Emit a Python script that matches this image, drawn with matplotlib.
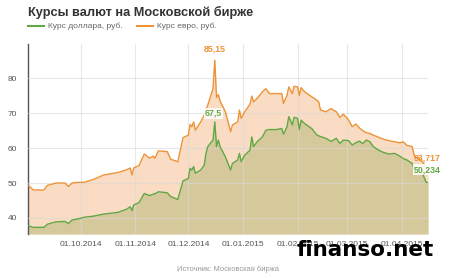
import matplotlib
matplotlib.use("Agg")
import matplotlib.pyplot as plt
import matplotlib.dates as mdates
import pandas as pd

dates = ["2014-09-01", "2014-09-04", "2014-09-10", "2014-09-12", "2014-09-17", "2014-09-22",
         "2014-09-24", "2014-09-26", "2014-09-30", "2014-10-03", "2014-10-08", "2014-10-14",
         "2014-10-22", "2014-10-27", "2014-10-29", "2014-10-30", "2014-10-31", "2014-11-03",
         "2014-11-06", "2014-11-09", "2014-11-11", "2014-11-12", "2014-11-14", "2014-11-19",
         "2014-11-21", "2014-11-25", "2014-11-28", "2014-12-01", "2014-12-02", "2014-12-03",
         "2014-12-04", "2014-12-05", "2014-12-08", "2014-12-10", "2014-12-11", "2014-12-12",
         "2014-12-15", "2014-12-16", "2014-12-17", "2014-12-18", "2014-12-19", "2014-12-22",
         "2014-12-25", "2014-12-26", "2014-12-29", "2014-12-30", "2014-12-31", "2015-01-02",
         "2015-01-05", "2015-01-06", "2015-01-07", "2015-01-09", "2015-01-12", "2015-01-14",
         "2015-01-16", "2015-01-20", "2015-01-23", "2015-01-24", "2015-01-26", "2015-01-27",
         "2015-01-29", "2015-01-30", "2015-02-01", "2015-02-02", "2015-02-03", "2015-02-05",
         "2015-02-09", "2015-02-12", "2015-02-13", "2015-02-14", "2015-02-17", "2015-02-20",
         "2015-02-23", "2015-02-25", "2015-02-27", "2015-03-02", "2015-03-04", "2015-03-06",
         "2015-03-08", "2015-03-10", "2015-03-12", "2015-03-14", "2015-03-16", "2015-03-19",
         "2015-03-22", "2015-03-25", "2015-03-28", "2015-03-31", "2015-04-02", "2015-04-04",
         "2015-04-07", "2015-04-08", "2015-04-09", "2015-04-10", "2015-04-13", "2015-04-15",
         "2015-04-16"]

euro = [49.4, 48.0, 48.0, 49.3, 50.0, 50.0,
        49.0, 50.0, 50.2, 50.2, 51.0, 52.3,
        53.0, 53.8, 54.3, 52.3, 54.3, 55.0,
        58.3, 57.1, 57.7, 57.1, 59.2, 59.0,
        56.8, 56.1, 63.0, 63.7, 66.8, 66.1,
        67.5, 65.1, 67.5, 69.4, 71.0, 72.3,
        77.0, 85.15, 74.5, 75.3, 73.5, 70.4,
        64.7, 66.6, 67.5, 70.9, 68.5, 70.4,
        72.6, 74.9, 73.2, 74.2, 76.1, 77.0,
        75.6, 75.6, 75.6, 72.8, 75.1, 77.5,
        75.6, 77.7, 77.5, 75.1, 77.3, 76.1,
        74.7, 73.7, 73.2, 70.9, 70.4, 71.3,
        70.4, 68.8, 69.7, 68.0, 66.1, 66.9,
        65.8, 65.0, 64.4, 64.2, 63.7, 63.1,
        62.5, 62.1, 61.8, 61.5, 61.8, 60.8,
        60.4, 58.3, 57.0, 57.5, 56.0, 54.5,
        53.717]

dollar = [37.8, 37.3, 37.3, 38.2, 38.9, 39.0,
          38.4, 39.4, 39.8, 40.2, 40.5, 41.1,
          41.6, 42.5, 43.2, 42.1, 43.7, 44.4,
          47.0, 46.4, 46.8, 46.9, 47.5, 47.2,
          46.1, 45.3, 50.6, 51.3, 54.2, 53.7,
          54.7, 52.8, 53.7, 55.1, 58.5, 60.4,
          62.3, 67.5, 60.4, 62.3, 60.4, 57.5,
          53.7, 55.6, 56.6, 58.5, 56.1, 58.0,
          59.4, 63.2, 60.4, 61.8, 63.2, 65.1,
          65.3, 65.3, 65.6, 64.0, 66.1, 69.0,
          66.6, 68.8, 68.5, 65.3, 68.0, 67.0,
          65.6, 63.7, 63.5, 63.3, 62.8, 61.9,
          62.8, 61.3, 62.3, 62.1, 60.9, 61.5,
          62.0, 61.3, 62.3, 61.8, 60.4, 59.4,
          58.7, 58.3, 58.5, 57.7, 57.0, 56.6,
          55.6, 54.5, 53.2, 53.7, 52.6, 50.1,
          50.234]

x_ticks = ["2014-10-01", "2014-11-01", "2014-12-01", "2015-01-01",
           "2015-02-01", "2015-03-01", "2015-04-01"]
y_ticks = [40, 50, 60, 70, 80]

peak_date = "2014-12-16"

title = "Курсы валют на Московской бирже"
label_usd = "Курс доллара, руб."
label_eur = "Курс евро, руб."
source = "Источник: Московская биржа"

plt.rcParams['font.family'] = ['Liberation Sans', 'DejaVu Sans']

x = pd.to_datetime(dates)
xt = pd.to_datetime(x_ticks)

fig = plt.figure(figsize=(4.5, 2.78), dpi=100)
ax = fig.add_axes([28/450, 1-234/278, 400/450, 190/278])

ymin, ymax = 35.4, 89.8
c_eur_line = "#EE9236"
c_eur_fill = "#F9DCC3"
c_usd_line = "#62A744"
c_usd_fill = "#D5C99C"

ax.fill_between(x, ymin, euro, color=c_eur_fill, lw=0, zorder=1)
ax.fill_between(x, ymin, dollar, color=c_usd_fill, lw=0, zorder=2)
ax.plot(x, euro, color=c_eur_line, lw=1.0, zorder=4)
ax.plot(x, dollar, color=c_usd_line, lw=1.0, zorder=4)

ax.set_xlim(x[0], x[-1])
ax.set_ylim(ymin, ymax)
ax.set_xticks(xt)
ax.xaxis.set_major_formatter(mdates.DateFormatter("%d.%m.%Y"))
ax.set_yticks(y_ticks)
ax.grid(True, color="#d9d9d9", lw=0.8, zorder=3)
ax.set_axisbelow(False)
for s in ["top", "right", "bottom"]:
    ax.spines[s].set_visible(False)
ax.spines["left"].set_color("#555555")
ax.spines["left"].set_linewidth(1.0)
ax.tick_params(axis="both", length=0, labelsize=6, colors="#555555", pad=5)
ax.tick_params(axis="y", pad=8)

for gl in ax.get_xgridlines() + ax.get_ygridlines():
    gl.set_zorder(3)
    gl.set_alpha(0.6)

ip = dates.index(peak_date)
ax.annotate("85,15", (x[ip], euro[ip]), xytext=(0, 5), textcoords="offset points",
            ha="center", va="bottom", fontsize=6.3, fontweight="bold", color=c_eur_line, zorder=6)
ax.annotate("67,5", (x[ip], dollar[ip]), xytext=(-1, 3), textcoords="offset points",
            ha="center", va="bottom", fontsize=6.3, fontweight="bold", color=c_usd_line, zorder=6,
            bbox=dict(boxstyle="square,pad=0.1", fc="white", ec="none", alpha=0.85))
ax.annotate("53,717", (x[-1], euro[-1]), xytext=(-10, 9), textcoords="offset points",
            ha="left", va="center", fontsize=6.3, fontweight="bold", color=c_eur_line, zorder=6,
            annotation_clip=False)
ax.annotate("50,234", (x[-1], dollar[-1]), xytext=(-10, 9), textcoords="offset points",
            ha="left", va="center", fontsize=6.3, fontweight="bold", color=c_usd_line, zorder=6,
            annotation_clip=False,
            bbox=dict(boxstyle="square,pad=0.1", fc="white", ec="none", alpha=0.85))

fig.text(28/450, 1-12/278, title, fontsize=9.2, fontweight="bold", color="#333333",
         ha="left", va="center")
fig.add_artist(plt.Line2D([28/450, 44/450], [1-26/278, 1-26/278], color=c_usd_line, lw=1.5))
fig.text(48/450, 1-26/278, label_usd, fontsize=6, color="#666666", ha="left", va="center")
fig.add_artist(plt.Line2D([137/450, 153/450], [1-26/278, 1-26/278], color=c_eur_line, lw=1.5))
fig.text(157/450, 1-26/278, label_eur, fontsize=6, color="#666666", ha="left", va="center")
fig.text(228/450, 1-269/278, source, fontsize=5.4, color="#999999", ha="center", va="center")
fig.text(365/450, 1-250/278, "finanso.net", fontsize=15.5, fontweight="bold", color="black",
         ha="center", va="center", family="DejaVu Sans", zorder=10)

fig.savefig("out.png", dpi=100)
